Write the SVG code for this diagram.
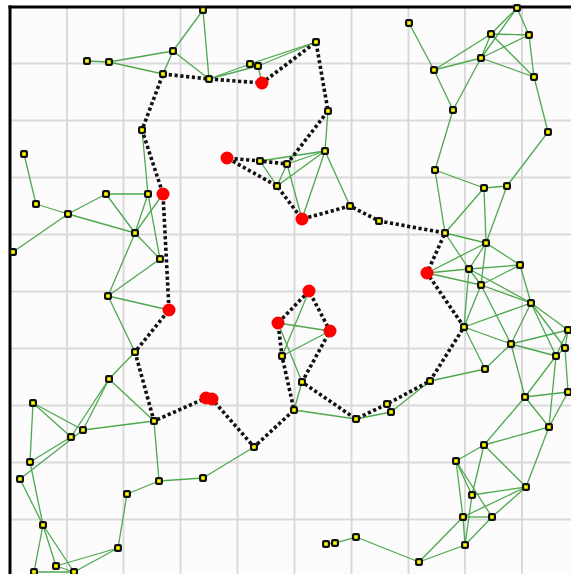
<svg xmlns="http://www.w3.org/2000/svg" width="571" height="574" viewBox="0 0 571 574">
<style>
.grid line{stroke:#dadada;stroke-width:2}
.e line{stroke:#4ea84e;stroke-width:1.3}
.loop{fill:none;stroke:#111;stroke-width:3.6;stroke-dasharray:3.2 2.6}
.n{fill:#ffff00;stroke:#111;stroke-width:2.2}
.r circle{fill:#ff0000}
</style>
<defs>
<rect id="sq" x="-2.9" y="-2.9" width="5.8" height="5.8" rx="1.2"/>
</defs>
<rect width="571" height="574" fill="#fff"/>
<rect x="10" y="7" width="561" height="567" fill="#fcfcfc"/>
<g class="grid">
<line x1="67" y1="7" x2="67" y2="574"/><line x1="123.5" y1="7" x2="123.5" y2="574"/><line x1="180.5" y1="7" x2="180.5" y2="574"/><line x1="237.5" y1="7" x2="237.5" y2="574"/><line x1="294.5" y1="7" x2="294.5" y2="574"/><line x1="351.5" y1="7" x2="351.5" y2="574"/><line x1="408.5" y1="7" x2="408.5" y2="574"/><line x1="465" y1="7" x2="465" y2="574"/><line x1="522" y1="7" x2="522" y2="574"/>
<line x1="10" y1="63.5" x2="571" y2="63.5"/><line x1="10" y1="120.5" x2="571" y2="120.5"/><line x1="10" y1="177.5" x2="571" y2="177.5"/><line x1="10" y1="234.5" x2="571" y2="234.5"/><line x1="10" y1="291.5" x2="571" y2="291.5"/><line x1="10" y1="348.5" x2="571" y2="348.5"/><line x1="10" y1="405.5" x2="571" y2="405.5"/><line x1="10" y1="462.5" x2="571" y2="462.5"/><line x1="10" y1="519.5" x2="571" y2="519.5"/>
</g>
<line x1="10" y1="5.5" x2="10" y2="574" stroke="#000" stroke-width="3"/>
<line x1="8.5" y1="7" x2="571" y2="7" stroke="#000" stroke-width="3"/>
<g id="connectors">
<g class="e">
<line x1="87" y1="61" x2="109" y2="62"/><line x1="109" y1="62" x2="173" y2="51"/><line x1="109" y1="62" x2="163" y2="74"/><line x1="173" y1="51" x2="163" y2="74"/><line x1="173" y1="51" x2="203" y2="10"/><line x1="173" y1="51" x2="209" y2="79"/><line x1="203" y1="10" x2="209" y2="79"/>
<line x1="209" y1="79" x2="250" y2="64"/><line x1="209" y1="79" x2="258" y2="66"/><line x1="250" y1="64" x2="316" y2="42"/><line x1="258" y1="66" x2="316" y2="42"/><line x1="250" y1="64" x2="258" y2="66"/><line x1="258" y1="66" x2="262" y2="83"/>
<line x1="142" y1="130" x2="148" y2="194"/>
<line x1="24" y1="154" x2="36" y2="204"/><line x1="36" y1="204" x2="68" y2="214"/><line x1="68" y1="214" x2="106" y2="194"/><line x1="68" y1="214" x2="13" y2="252"/><line x1="68" y1="214" x2="135" y2="233"/><line x1="106" y1="194" x2="148" y2="194"/><line x1="106" y1="194" x2="135" y2="233"/><line x1="148" y1="194" x2="135" y2="233"/><line x1="163" y1="194" x2="135" y2="233"/><line x1="148" y1="194" x2="160" y2="259"/><line x1="135" y1="233" x2="160" y2="259"/><line x1="135" y1="233" x2="108" y2="296"/><line x1="160" y1="259" x2="108" y2="296"/><line x1="108" y1="296" x2="169" y2="310"/><line x1="108" y1="296" x2="135" y2="352"/><line x1="135" y1="352" x2="109" y2="379"/>
<line x1="328" y1="111" x2="325" y2="151"/><line x1="325" y1="151" x2="260" y2="161"/><line x1="325" y1="151" x2="287" y2="164"/><line x1="325" y1="151" x2="277" y2="186"/><line x1="260" y1="161" x2="277" y2="186"/><line x1="287" y1="164" x2="277" y2="186"/><line x1="325" y1="151" x2="302" y2="219"/><line x1="287" y1="164" x2="302" y2="219"/><line x1="325" y1="151" x2="350" y2="206"/>
<line x1="445" y1="233" x2="435" y2="170"/><line x1="445" y1="233" x2="484" y2="188"/><line x1="486" y1="243" x2="484" y2="188"/><line x1="486" y1="243" x2="507" y2="186"/><line x1="445" y1="233" x2="486" y2="243"/><line x1="445" y1="233" x2="469" y2="269"/><line x1="427" y1="273" x2="486" y2="243"/><line x1="427" y1="273" x2="469" y2="269"/><line x1="427" y1="273" x2="481" y2="285"/><line x1="486" y1="243" x2="469" y2="269"/><line x1="486" y1="243" x2="481" y2="285"/><line x1="486" y1="243" x2="520" y2="265"/><line x1="469" y1="269" x2="520" y2="265"/><line x1="481" y1="285" x2="520" y2="265"/><line x1="469" y1="269" x2="531" y2="303"/><line x1="481" y1="285" x2="531" y2="303"/><line x1="520" y1="265" x2="531" y2="303"/><line x1="469" y1="269" x2="464" y2="327"/><line x1="481" y1="285" x2="464" y2="327"/><line x1="469" y1="269" x2="481" y2="285"/><line x1="481" y1="285" x2="511" y2="344"/><line x1="464" y1="327" x2="531" y2="303"/><line x1="464" y1="327" x2="511" y2="344"/><line x1="464" y1="327" x2="485" y2="369"/><line x1="531" y1="303" x2="511" y2="344"/><line x1="531" y1="303" x2="568" y2="330"/><line x1="531" y1="303" x2="565" y2="348"/><line x1="531" y1="303" x2="556" y2="356"/><line x1="511" y1="344" x2="568" y2="330"/><line x1="511" y1="344" x2="556" y2="356"/><line x1="511" y1="344" x2="485" y2="369"/><line x1="511" y1="344" x2="525" y2="397"/><line x1="485" y1="369" x2="430" y2="381"/><line x1="568" y1="330" x2="565" y2="348"/><line x1="565" y1="348" x2="556" y2="356"/><line x1="568" y1="330" x2="556" y2="356"/><line x1="565" y1="348" x2="568" y2="392"/><line x1="556" y1="356" x2="525" y2="397"/><line x1="556" y1="356" x2="549" y2="427"/>
<line x1="409" y1="23" x2="434" y2="70"/><line x1="517" y1="8" x2="491" y2="34"/><line x1="517" y1="8" x2="481" y2="58"/><line x1="517" y1="8" x2="529" y2="35"/><line x1="491" y1="34" x2="529" y2="35"/><line x1="491" y1="34" x2="434" y2="70"/><line x1="491" y1="34" x2="481" y2="58"/><line x1="491" y1="34" x2="534" y2="77"/><line x1="529" y1="35" x2="481" y2="58"/><line x1="529" y1="35" x2="534" y2="77"/><line x1="481" y1="58" x2="434" y2="70"/><line x1="481" y1="58" x2="534" y2="77"/><line x1="434" y1="70" x2="453" y2="110"/><line x1="481" y1="58" x2="453" y2="110"/><line x1="534" y1="77" x2="548" y2="132"/><line x1="453" y1="110" x2="435" y2="170"/><line x1="548" y1="132" x2="507" y2="186"/><line x1="435" y1="170" x2="484" y2="188"/><line x1="484" y1="188" x2="507" y2="186"/>
<line x1="109" y1="379" x2="83" y2="430"/><line x1="109" y1="379" x2="71" y2="437"/><line x1="109" y1="379" x2="154" y2="421"/><line x1="33" y1="403" x2="83" y2="430"/><line x1="33" y1="403" x2="71" y2="437"/><line x1="33" y1="403" x2="30" y2="462"/><line x1="83" y1="430" x2="154" y2="421"/><line x1="71" y1="437" x2="30" y2="462"/><line x1="83" y1="430" x2="20" y2="479"/><line x1="30" y1="462" x2="43" y2="525"/><line x1="20" y1="479" x2="43" y2="525"/><line x1="154" y1="421" x2="159" y2="481"/><line x1="159" y1="481" x2="203" y2="478"/><line x1="159" y1="481" x2="127" y2="494"/><line x1="127" y1="494" x2="118" y2="548"/><line x1="118" y1="548" x2="56" y2="566"/><line x1="118" y1="548" x2="74" y2="572"/><line x1="43" y1="525" x2="34" y2="572"/><line x1="43" y1="525" x2="56" y2="566"/><line x1="43" y1="525" x2="74" y2="572"/><line x1="56" y1="566" x2="74" y2="572"/><line x1="34" y1="572" x2="74" y2="572"/>
<line x1="203" y1="478" x2="254" y2="447"/><line x1="302" y1="382" x2="294" y2="410"/><line x1="294" y1="410" x2="356" y2="419"/><line x1="356" y1="419" x2="391" y2="412"/><line x1="391" y1="412" x2="430" y2="381"/><line x1="326" y1="544" x2="335" y2="543"/><line x1="335" y1="543" x2="356" y2="537"/><line x1="356" y1="537" x2="419" y2="562"/><line x1="419" y1="562" x2="465" y2="545"/><line x1="419" y1="562" x2="463" y2="517"/>
<line x1="278" y1="323" x2="330" y2="331"/><line x1="309" y1="291" x2="282" y2="356"/><line x1="278" y1="323" x2="302" y2="382"/><line x1="330" y1="331" x2="282" y2="356"/>
<line x1="525" y1="397" x2="568" y2="392"/><line x1="525" y1="397" x2="484" y2="445"/><line x1="525" y1="397" x2="549" y2="427"/><line x1="568" y1="392" x2="549" y2="427"/><line x1="484" y1="445" x2="549" y2="427"/><line x1="484" y1="445" x2="456" y2="461"/><line x1="484" y1="445" x2="526" y2="487"/><line x1="484" y1="445" x2="472" y2="495"/><line x1="549" y1="427" x2="526" y2="487"/><line x1="456" y1="461" x2="472" y2="495"/><line x1="456" y1="461" x2="463" y2="517"/><line x1="456" y1="461" x2="492" y2="517"/><line x1="472" y1="495" x2="526" y2="487"/><line x1="463" y1="517" x2="526" y2="487"/><line x1="492" y1="517" x2="526" y2="487"/><line x1="463" y1="517" x2="492" y2="517"/><line x1="463" y1="517" x2="465" y2="545"/><line x1="472" y1="495" x2="465" y2="545"/><line x1="492" y1="517" x2="465" y2="545"/>
</g>
<path class="loop" d="M163 74 L209 79 L262 83 L316 42 L328 111 L287 164 L260 161 L227 158 L277 186 L302 219 L350 206 L379 221 L445 233 L427 273 L464 327 L430 381 L387 404 L356 419 L302 382 L330 331 L309 291 L278 323 L282 356 L294 410 L254 447 L212 399 L206 398 L154 421 L135 352 L169 310 L163 194 L142 130 Z"/>
</g>
<g class="n">
<g id="n1" transform="translate(203,10)"><use href="#sq"/></g>
<g id="n2" transform="translate(173,51)"><use href="#sq"/></g>
<g id="n3" transform="translate(87,61)"><use href="#sq"/></g>
<g id="n4" transform="translate(109,62)"><use href="#sq"/></g>
<g id="n5" transform="translate(163,74)"><use href="#sq"/></g>
<g id="n6" transform="translate(209,79)"><use href="#sq"/></g>
<g id="n7" transform="translate(250,64)"><use href="#sq"/></g>
<g id="n8" transform="translate(258,66)"><use href="#sq"/></g>
<g id="n9" transform="translate(316,42)"><use href="#sq"/></g>
<g id="n10" transform="translate(328,111)"><use href="#sq"/></g>
<g id="n11" transform="translate(325,151)"><use href="#sq"/></g>
<g id="n12" transform="translate(260,161)"><use href="#sq"/></g>
<g id="n13" transform="translate(287,164)"><use href="#sq"/></g>
<g id="n14" transform="translate(277,186)"><use href="#sq"/></g>
<g id="n15" transform="translate(142,130)"><use href="#sq"/></g>
<g id="n16" transform="translate(24,154)"><use href="#sq"/></g>
<g id="n17" transform="translate(106,194)"><use href="#sq"/></g>
<g id="n18" transform="translate(148,194)"><use href="#sq"/></g>
<g id="n19" transform="translate(36,204)"><use href="#sq"/></g>
<g id="n20" transform="translate(68,214)"><use href="#sq"/></g>
<g id="n21" transform="translate(135,233)"><use href="#sq"/></g>
<g id="n22" transform="translate(13,252)"><use href="#sq"/></g>
<g id="n23" transform="translate(160,259)"><use href="#sq"/></g>
<g id="n24" transform="translate(108,296)"><use href="#sq"/></g>
<g id="n25" transform="translate(135,352)"><use href="#sq"/></g>
<g id="n26" transform="translate(109,379)"><use href="#sq"/></g>
<g id="n27" transform="translate(350,206)"><use href="#sq"/></g>
<g id="n28" transform="translate(379,221)"><use href="#sq"/></g>
<g id="n29" transform="translate(445,233)"><use href="#sq"/></g>
<g id="n30" transform="translate(486,243)"><use href="#sq"/></g>
<g id="n31" transform="translate(469,269)"><use href="#sq"/></g>
<g id="n32" transform="translate(520,265)"><use href="#sq"/></g>
<g id="n33" transform="translate(481,285)"><use href="#sq"/></g>
<g id="n34" transform="translate(531,303)"><use href="#sq"/></g>
<g id="n35" transform="translate(464,327)"><use href="#sq"/></g>
<g id="n36" transform="translate(511,344)"><use href="#sq"/></g>
<g id="n37" transform="translate(568,330)"><use href="#sq"/></g>
<g id="n38" transform="translate(565,348)"><use href="#sq"/></g>
<g id="n39" transform="translate(556,356)"><use href="#sq"/></g>
<g id="n40" transform="translate(485,369)"><use href="#sq"/></g>
<g id="n41" transform="translate(430,381)"><use href="#sq"/></g>
<g id="n42" transform="translate(517,8)"><use href="#sq"/></g>
<g id="n43" transform="translate(409,23)"><use href="#sq"/></g>
<g id="n44" transform="translate(491,34)"><use href="#sq"/></g>
<g id="n45" transform="translate(529,35)"><use href="#sq"/></g>
<g id="n46" transform="translate(481,58)"><use href="#sq"/></g>
<g id="n47" transform="translate(434,70)"><use href="#sq"/></g>
<g id="n48" transform="translate(534,77)"><use href="#sq"/></g>
<g id="n49" transform="translate(453,110)"><use href="#sq"/></g>
<g id="n50" transform="translate(548,132)"><use href="#sq"/></g>
<g id="n51" transform="translate(435,170)"><use href="#sq"/></g>
<g id="n52" transform="translate(484,188)"><use href="#sq"/></g>
<g id="n53" transform="translate(507,186)"><use href="#sq"/></g>
<g id="n54" transform="translate(282,356)"><use href="#sq"/></g>
<g id="n55" transform="translate(302,382)"><use href="#sq"/></g>
<g id="n56" transform="translate(294,410)"><use href="#sq"/></g>
<g id="n57" transform="translate(356,419)"><use href="#sq"/></g>
<g id="n58" transform="translate(387,404)"><use href="#sq"/></g>
<g id="n59" transform="translate(391,412)"><use href="#sq"/></g>
<g id="n60" transform="translate(254,447)"><use href="#sq"/></g>
<g id="n61" transform="translate(203,478)"><use href="#sq"/></g>
<g id="n62" transform="translate(326,544)"><use href="#sq"/></g>
<g id="n63" transform="translate(335,543)"><use href="#sq"/></g>
<g id="n64" transform="translate(356,537)"><use href="#sq"/></g>
<g id="n65" transform="translate(419,562)"><use href="#sq"/></g>
<g id="n66" transform="translate(33,403)"><use href="#sq"/></g>
<g id="n67" transform="translate(154,421)"><use href="#sq"/></g>
<g id="n68" transform="translate(83,430)"><use href="#sq"/></g>
<g id="n69" transform="translate(71,437)"><use href="#sq"/></g>
<g id="n70" transform="translate(30,462)"><use href="#sq"/></g>
<g id="n71" transform="translate(20,479)"><use href="#sq"/></g>
<g id="n72" transform="translate(159,481)"><use href="#sq"/></g>
<g id="n73" transform="translate(127,494)"><use href="#sq"/></g>
<g id="n74" transform="translate(43,525)"><use href="#sq"/></g>
<g id="n75" transform="translate(118,548)"><use href="#sq"/></g>
<g id="n76" transform="translate(56,566)"><use href="#sq"/></g>
<g id="n77" transform="translate(34,572)"><use href="#sq"/></g>
<g id="n78" transform="translate(74,572)"><use href="#sq"/></g>
<g id="n79" transform="translate(525,397)"><use href="#sq"/></g>
<g id="n80" transform="translate(568,392)"><use href="#sq"/></g>
<g id="n81" transform="translate(549,427)"><use href="#sq"/></g>
<g id="n82" transform="translate(484,445)"><use href="#sq"/></g>
<g id="n83" transform="translate(456,461)"><use href="#sq"/></g>
<g id="n84" transform="translate(526,487)"><use href="#sq"/></g>
<g id="n85" transform="translate(472,495)"><use href="#sq"/></g>
<g id="n86" transform="translate(463,517)"><use href="#sq"/></g>
<g id="n87" transform="translate(492,517)"><use href="#sq"/></g>
<g id="n88" transform="translate(465,545)"><use href="#sq"/></g>
</g>
<g class="r">
<g id="r1"><circle cx="262" cy="83" r="6.5"/></g>
<g id="r2"><circle cx="227" cy="158" r="6.5"/></g>
<g id="r3"><circle cx="163" cy="194" r="6.5"/></g>
<g id="r4"><circle cx="302" cy="219" r="6.5"/></g>
<g id="r5"><circle cx="169" cy="310" r="6.5"/></g>
<g id="r6"><circle cx="427" cy="273" r="6.5"/></g>
<g id="r7"><circle cx="309" cy="291" r="6.5"/></g>
<g id="r8"><circle cx="278" cy="323" r="6.5"/></g>
<g id="r9"><circle cx="330" cy="331" r="6.5"/></g>
<g id="r10"><circle cx="206" cy="398" r="6.5"/></g>
<g id="r11"><circle cx="212" cy="399" r="6.5"/></g>
</g>
</svg>
